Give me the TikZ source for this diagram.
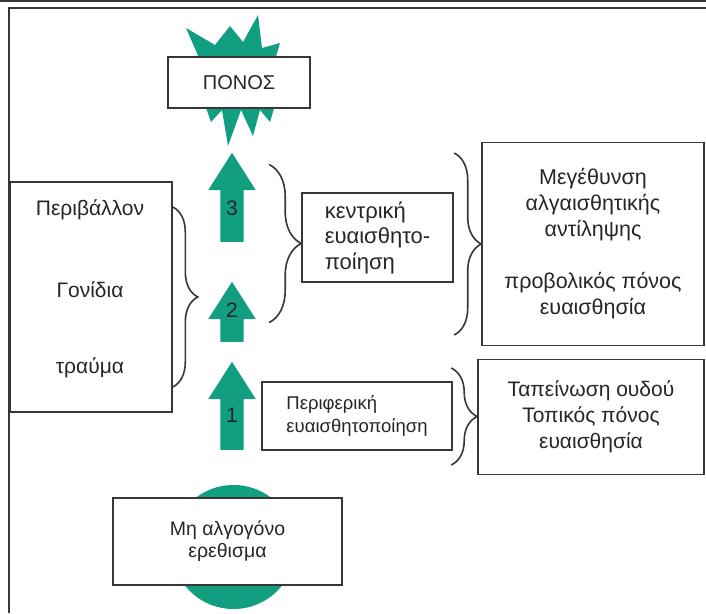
\documentclass[tikz,border=0pt]{standalone}
\usepackage{fontspec}
\setmainfont{Liberation Sans}
\usepackage{xcolor}
\usepackage{tikz}
\usetikzlibrary{calc, shapes.arrows, decorations.pathreplacing}
\definecolor{painGreen}{RGB}{18,158,128}
\definecolor{lineGray}{RGB}{55,55,55}
\tikzstyle{box}     = [rectangle, draw=lineGray, line width=1.6pt, fill=white, text=black!85, inner sep=0pt, align=center, font=\fontsize{21}{26}\selectfont]
\tikzstyle{label}   = [text=black!85, inner sep=0pt, font=\fontsize{21}{25}\selectfont]
\tikzstyle{stage}   = [single arrow, shape border rotate=90, fill=painGreen, draw=none, inner sep=0pt, text width=23pt, single arrow head extend=12pt, single arrow tip angle=65, anchor=tail]
\tikzstyle{curly}   = [decorate, draw=lineGray, line width=1.6pt]

\begin{document}
\begin{tikzpicture}[x=1pt, y=-1pt]
    \useasboundingbox (0,0) rectangle (706,613);
    \fill[white] (0,0) rectangle (706,613);

    % frame
    \draw[lineGray, line width=1.5pt] (0,1) -- (706,1);
    \draw[lineGray, line width=1.5pt] (9,613) -- (9,8) -- (706,8);

    % burst behind the pain box
    \fill[painGreen] (200,60) -- (186,28) -- (215,45) -- (230,26) -- (243,42) -- (258,15) -- (262,48) -- (280,43) -- (275,60)
        -- (275,105) -- (270,122) -- (260,110) -- (253,136) -- (241,110) -- (228,146) -- (222,110) -- (211,122) -- (205,105) -- cycle;
    \node (ponos) [box, minimum width=142pt, minimum height=51pt, font=\fontsize{20}{25}\selectfont] at (239,82.5) {ΠΟΝΟΣ};

    % stimulus
    \fill[painGreen] (233.5,547) circle (62);
    \node (stimulus) [box, minimum width=229pt, minimum height=87pt, font=\fontsize{19.5}{22}\selectfont] at (227.5,541.5) {Μη αλγογόνο\\ερεθισμα};

    % the three steps
    \node (step3) [stage, minimum height=89pt] at (232,242) {};
    \node (step2) [stage, minimum height=60pt] at (232,342) {};
    \node (step1) [stage, minimum height=88pt] at (232,450) {};
    \node (num3) [label] at (232,208) {3};
    \node (num2) [label] at (232,310) {2};
    \node (num1) [label] at (232,415) {1};

    % left factors
    \node (factors) [box, minimum width=162pt, minimum height=230pt] at (91,297) {};
    \node (env)     [label] at (90,210) {Περιβάλλον};
    \node (genes)   [label] at (90,290) {Γονίδια};
    \node (trauma)  [label] at (90,368) {τραύμα};

    % central and peripheral
    \node (central)  [box, align=left, minimum width=151pt, minimum height=89pt, font=\fontsize{22}{25.5}\selectfont] at (377.5,237.5) {κεντρική\\ευαισθητο-\\ποίηση};
    \node (periph)   [box, align=left, minimum width=190pt, minimum height=68pt, font=\fontsize{18.5}{23}\selectfont] at (357,416) {Περιφερική\\ευαισθητοποίηση};
    \node (hyper)    [box, minimum width=222pt, minimum height=203pt, font=\fontsize{21.5}{26}\selectfont] at (593,244) {Μεγέθυνση\\αλγαισθητικής\\αντίληψης\\[26pt]προβολικός πόνος\\ευαισθησία};
    \node (local)    [box, minimum width=226pt, minimum height=115pt] at (591,417) {Ταπείνωση ουδού\\Τοπικός πόνος\\ευαισθησία};

    % braces
    \draw [curly, decoration={brace, amplitude=25pt}] (factors.east |- 0,207) -- (factors.east |- 0,387);
    \draw [curly, decoration={brace, amplitude=32pt}] ($(central.west)+(-32,-73)$) -- ($(central.west)+(-32,85)$);
    \draw [curly, decoration={brace, amplitude=27pt}] ($(hyper.west)+(-27,-91)$) -- ($(hyper.west)+(-27,91)$);
    \draw [curly, decoration={brace, amplitude=26pt}] ($(local.west)+(-26,-49)$) -- ($(local.west)+(-26,48)$);
\end{tikzpicture}
\end{document}
